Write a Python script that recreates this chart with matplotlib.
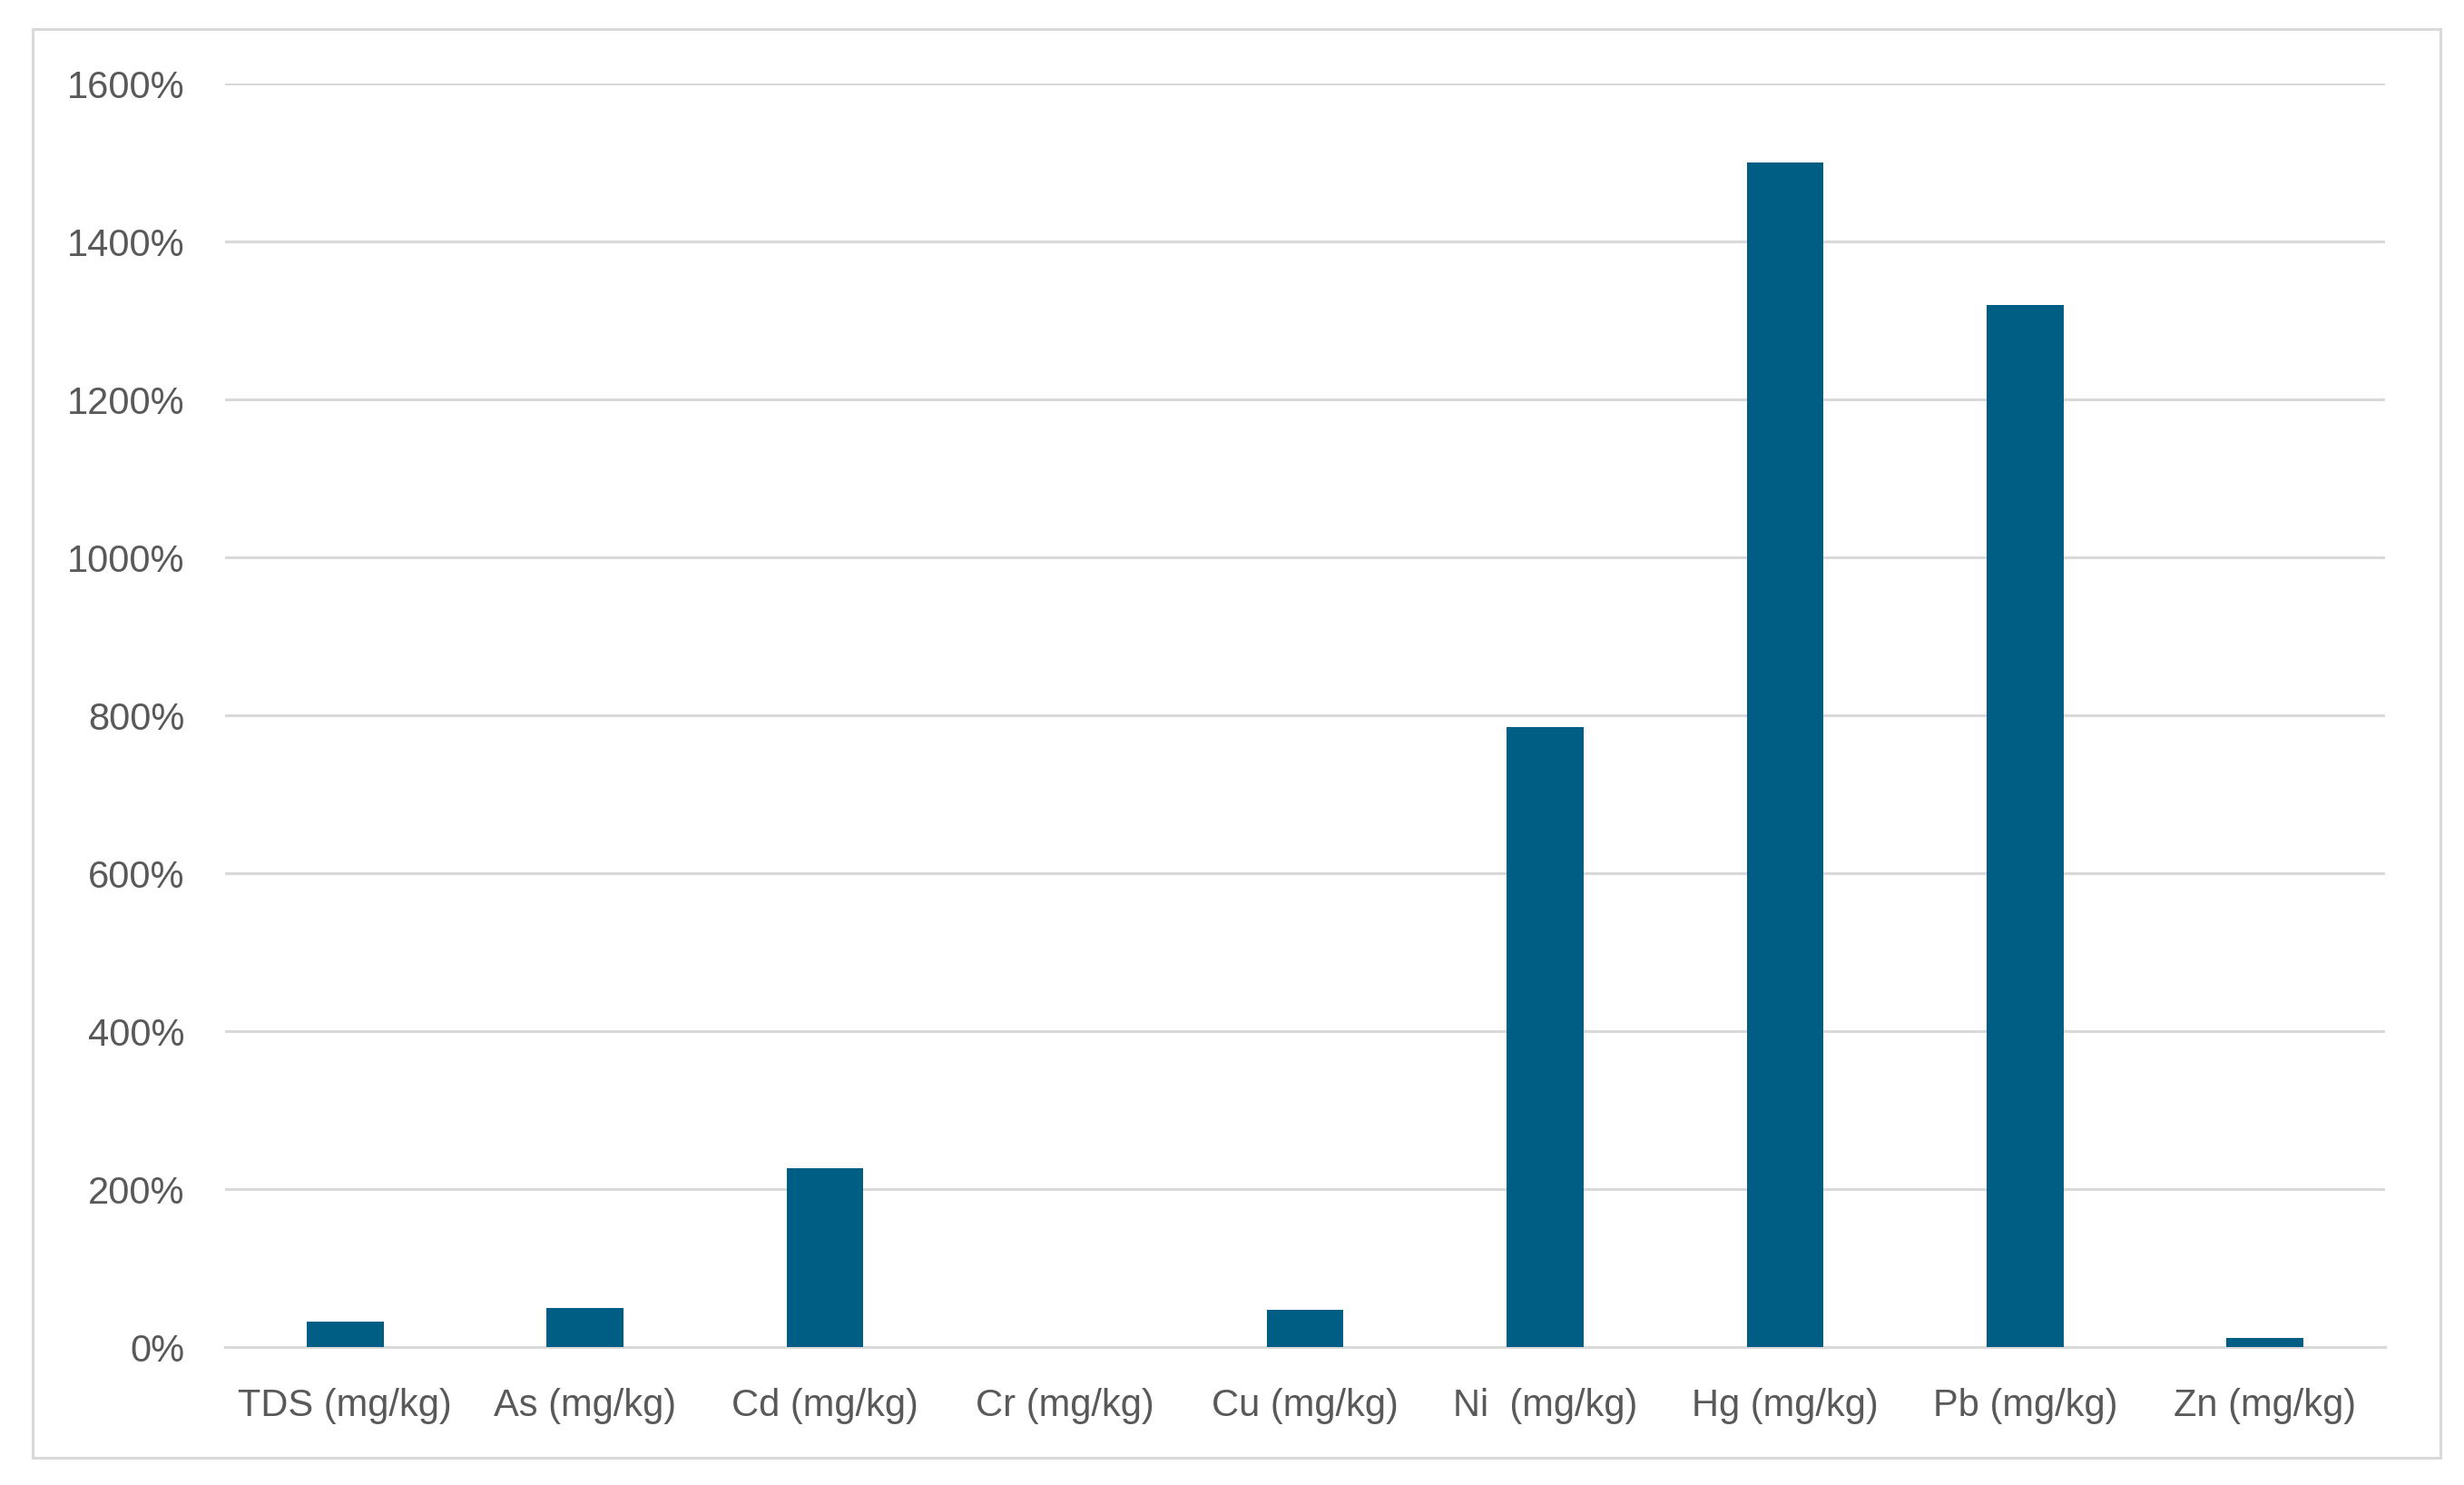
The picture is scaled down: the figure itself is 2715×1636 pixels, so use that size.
import matplotlib
matplotlib.use("Agg")
import matplotlib.pyplot as plt
from matplotlib.ticker import FuncFormatter
from matplotlib.patches import Rectangle

categories = ["TDS (mg/kg)", "As (mg/kg)", "Cd (mg/kg)", "Cr (mg/kg)", "Cu (mg/kg)",
              "Ni  (mg/kg)", "Hg (mg/kg)", "Pb (mg/kg)", "Zn (mg/kg)"]
values = [32, 50, 227, 0, 47, 785, 1500, 1320, 11]
yticks = [0, 200, 400, 600, 800, 1000, 1200, 1400, 1600]

plt.rcParams['font.family'] = ['Liberation Sans', 'DejaVu Sans']

fig = plt.figure(figsize=(27.15, 16.368), dpi=100)
ax = fig.add_axes([248/2715, 1 - 1485/1637, (2628-248)/2715, (1485-92.7)/1637])

x = list(range(len(categories)))
ax.bar(x, values, width=0.32, color='#005E84', zorder=3)

ax.set_xlim(-0.5, len(categories) - 0.5)
ax.set_ylim(0, 1600)
ax.set_yticks(yticks)
ax.yaxis.set_major_formatter(FuncFormatter(lambda v, p: f"{int(v)}%"))
ax.set_xticks(x)
ax.set_xticklabels(categories)

ax.grid(axis='y', color='#d9d9d9', linewidth=2.2, zorder=0)
ax.grid(axis='x', visible=False)
for s in ['top', 'right', 'left']:
    ax.spines[s].set_visible(False)
ax.spines['bottom'].set_color('#d9d9d9')
ax.spines['bottom'].set_linewidth(2.2)
ax.spines['bottom'].set_zorder(2)

ax.tick_params(axis='both', length=0, labelsize=30, labelcolor='#595959')
ax.tick_params(axis='y', pad=32)
ax.tick_params(axis='x', pad=32)

frame = Rectangle((36/2715, 1 - 1607/1637), (2689-36)/2715, (1607-33)/1637,
                  transform=fig.transFigure, fill=False, edgecolor='#d9d9d9',
                  linewidth=2.2, zorder=0)
fig.patches.append(frame)

fig.savefig("out.png", dpi=100, facecolor='white')
